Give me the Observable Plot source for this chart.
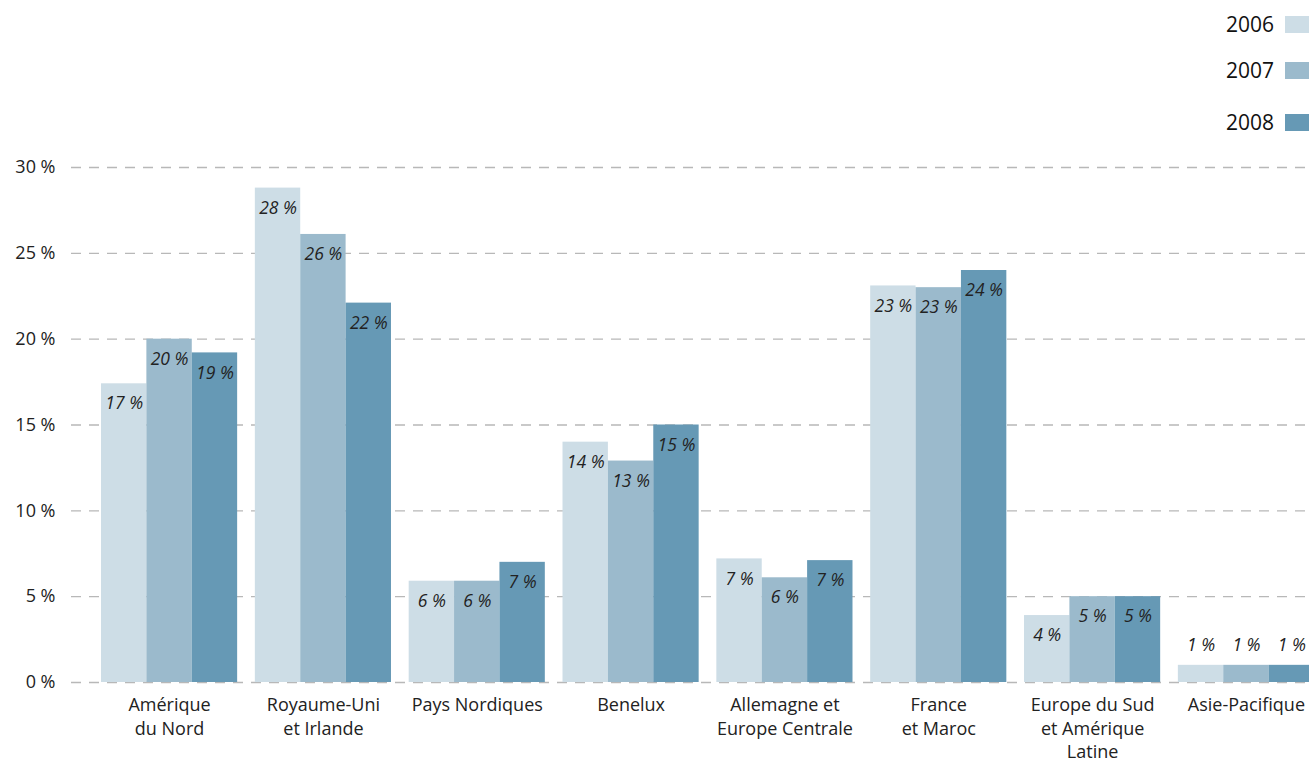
<!DOCTYPE html>
<html><head><meta charset="utf-8">
<script src="https://cdn.jsdelivr.net/npm/d3@7"></script>
<script src="https://cdn.jsdelivr.net/npm/@observablehq/plot@0.6"></script>
<style>
body{margin:0;overflow:hidden;background:#fff;font-family:"Open Sans",sans-serif;}
#wrap{position:relative;width:1309px;height:758px;overflow:hidden}
#legend{position:relative;height:140px}
.lg{position:absolute;right:0;display:flex;align-items:center;font-size:21px;color:#111;height:28px}
.lg .sw{display:inline-block;width:24px;height:17px;margin-left:11px}
#chart{position:relative;width:1309px;height:618px}
#chart svg{position:absolute;left:0;top:0}
</style></head><body>
<div id="wrap"><div id="legend"></div><div id="chart"></div></div>
<script>
const regions = ["Amérique\ndu Nord","Royaume-Uni\net Irlande","Pays Nordiques","Benelux","Allemagne et\nEurope Centrale","France\net Maroc","Europe du Sud\net Amérique\nLatine","Asie-Pacifique"];
const years = ["2006","2007","2008"];
const values2006 = [17.4, 28.8, 5.9, 14.0, 7.2, 23.1, 3.9, 1.0];
const values2007 = [20.0, 26.1, 5.9, 12.9, 6.1, 23.0, 5.0, 1.0];
const values2008 = [19.2, 22.1, 7.0, 15.0, 7.1, 24.0, 5.0, 1.0];
const labels2006 = ["17 %","28 %","6 %","14 %","7 %","23 %","4 %","1 %"];
const labels2007 = ["20 %","26 %","6 %","13 %","6 %","23 %","5 %","1 %"];
const labels2008 = ["19 %","22 %","7 %","15 %","7 %","24 %","5 %","1 %"];
const colors = ["#cddde6","#9bbacc","#6699b5"];
const yTicks = [0,5,10,15,20,25,30];

const valueSets = [values2006, values2007, values2008];
const labelSets = [labels2006, labels2007, labels2008];
const data = regions.flatMap((r,i)=>years.map((y,j)=>({region:r, year:y, value:valueSets[j][i], label:labelSets[j][i]})));

// legend
const legendTops = [10, 56, 108];
const legend = document.getElementById("legend");
years.forEach((y,j)=>{
  const row = document.createElement("div");
  row.className = "lg";
  row.style.top = legendTops[j] + "px";
  row.innerHTML = `<span>${y}</span><span class="sw" style="background:${colors[j]}"></span>`;
  legend.appendChild(row);
});

const common = {
  width: 1309, height: 618,
  marginTop: 27, marginBottom: 76, marginLeft: 71, marginRight: 0,
  y: {domain: [0, 30], axis: null}
};

// background: dashed grid and y tick labels across the whole width
const grid = Plot.plot({
  ...common,
  style: {fontFamily: "'Open Sans', sans-serif", fontSize: "18px", color: "#222", background: "#fff"},
  marks: [
    Plot.ruleY(yTicks, {y: d => d, stroke: "#b8b8b8", strokeWidth: 1.3, strokeDasharray: "10,8"}),
    Plot.text(yTicks, {y: d => d, text: d => `${d} %`, frameAnchor: "left", textAnchor: "end", dx: -16, fontSize: 18, fill: "#222"})
  ]
});

// foreground: grouped bars
const bars = Plot.plot({
  ...common,
  style: {fontFamily: "'Open Sans', sans-serif", fontSize: "18px", color: "#222", background: "transparent"},
  fx: {domain: regions, range: [101, 1314], paddingInner: 0.115, paddingOuter: 0, round: false},
  x: {domain: years, padding: 0, round: false, axis: null},
  color: {domain: years, range: colors},
  marks: [
    Plot.barY(data, {fx: "region", x: "year", y: "value", fill: "year"}),
    Plot.text(data.filter(d => d.value >= 2), {fx: "region", x: "year", y: "value", text: "label", dy: 20, fontStyle: "italic", fontSize: 17.5, fill: "#222"}),
    Plot.text(data.filter(d => d.value < 2), {fx: "region", x: "year", y: "value", text: "label", dy: -20, fontStyle: "italic", fontSize: 17.5, fill: "#222"}),
    Plot.axisFx({anchor: "bottom", tickSize: 0, tickPadding: 12, lineHeight: 1.3, fontSize: 18, label: null})
  ]
});
const c = document.getElementById("chart");
c.appendChild(grid);
c.appendChild(bars);
</script>
</body></html>
